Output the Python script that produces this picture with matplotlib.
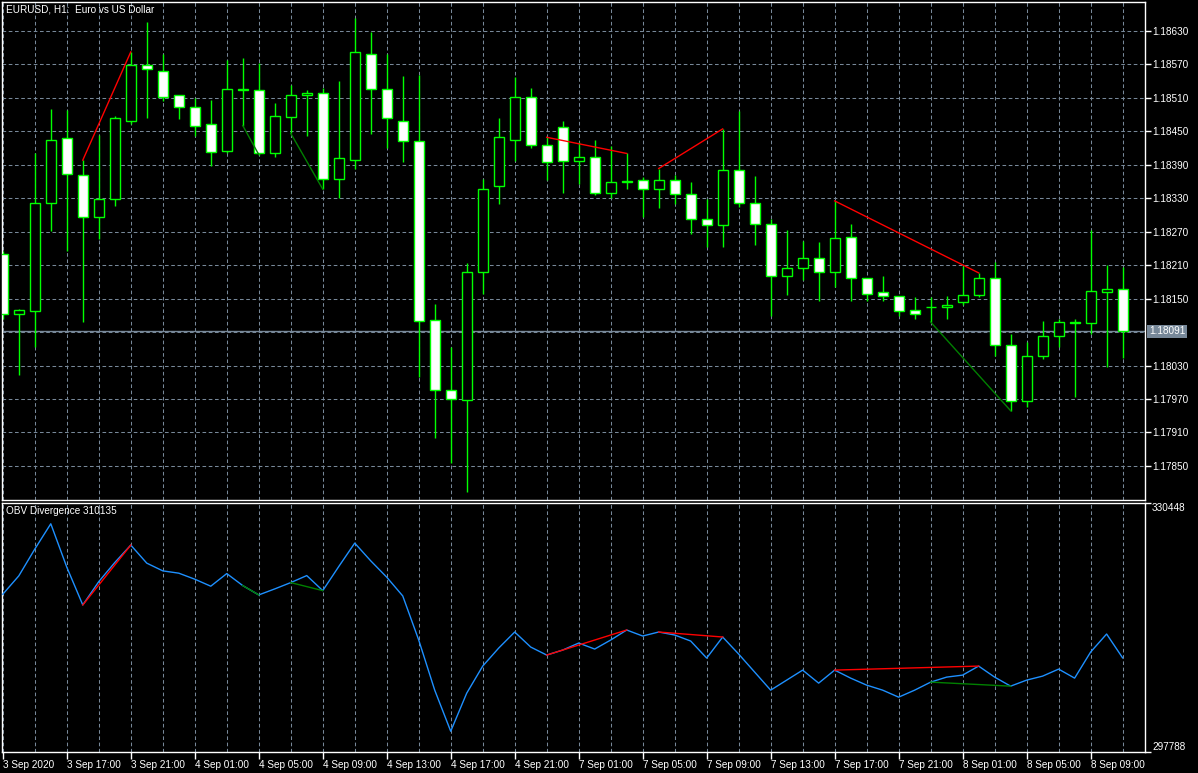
import matplotlib
matplotlib.use("Agg")
import matplotlib.pyplot as plt
import matplotlib.transforms as mtransforms

plt.rcParams['font.family'] = ['Liberation Sans', 'DejaVu Sans']

# --- данные графика (EURUSD H1) ---
chart_title = "EURUSD, H1:  Euro vs US Dollar"
obv_title = "OBV Divergence 310135"
last_price = 1.18091

opens = [1.18229, 1.18123, 1.18128, 1.18322, 1.18437, 1.18372, 1.18297, 1.18329, 1.18469, 1.18568,
         1.18557, 1.18514, 1.18494, 1.18462, 1.18414, 1.18523, 1.18524, 1.18410, 1.18476, 1.18514,
         1.18518, 1.18365, 1.18399, 1.18589, 1.18525, 1.18469, 1.18432, 1.18112, 1.17986, 1.17968,
         1.18198, 1.18351, 1.18435, 1.18512, 1.18426, 1.18458, 1.18397, 1.18403, 1.18340, 1.18358,
         1.18362, 1.18347, 1.18363, 1.18338, 1.18292, 1.18281, 1.18380, 1.18322, 1.18284, 1.18191,
         1.18204, 1.18223, 1.18198, 1.18261, 1.18186, 1.18161, 1.18155, 1.18130, 1.18134, 1.18135,
         1.18143, 1.18157, 1.18186, 1.18067, 1.17967, 1.18047, 1.18082, 1.18107, 1.18107, 1.18162,
         1.18168]
highs = [1.18236, 1.18132, 1.18411, 1.18490, 1.18487, 1.18398, 1.18443, 1.18477, 1.18592, 1.18645,
         1.18588, 1.18515, 1.18510, 1.18506, 1.18577, 1.18581, 1.18572, 1.18500, 1.18532, 1.18524,
         1.18528, 1.18540, 1.18652, 1.18628, 1.18589, 1.18549, 1.18550, 1.18140, 1.18063, 1.18213,
         1.18364, 1.18473, 1.18547, 1.18527, 1.18439, 1.18468, 1.18430, 1.18434, 1.18424, 1.18410,
         1.18368, 1.18383, 1.18371, 1.18358, 1.18329, 1.18454, 1.18486, 1.18369, 1.18293, 1.18272,
         1.18254, 1.18252, 1.18325, 1.18283, 1.18187, 1.18191, 1.18155, 1.18153, 1.18152, 1.18155,
         1.18209, 1.18196, 1.18216, 1.18087, 1.18073, 1.18110, 1.18114, 1.18114, 1.18272, 1.18211,
         1.18206]
lows = [1.18114, 1.18013, 1.18064, 1.18271, 1.18236, 1.18108, 1.18257, 1.18316, 1.18462, 1.18473,
        1.18504, 1.18472, 1.18441, 1.18388, 1.18411, 1.18460, 1.18408, 1.18404, 1.18446, 1.18442,
        1.18346, 1.18330, 1.18382, 1.18445, 1.18419, 1.18395, 1.18010, 1.17900, 1.17856, 1.17804,
        1.18158, 1.18320, 1.18397, 1.18420, 1.18363, 1.18339, 1.18356, 1.18336, 1.18331, 1.18347,
        1.18296, 1.18312, 1.18320, 1.18266, 1.18242, 1.18242, 1.18314, 1.18246, 1.18119, 1.18156,
        1.18183, 1.18146, 1.18171, 1.18146, 1.18146, 1.18146, 1.18119, 1.18114, 1.18108, 1.18114,
        1.18139, 1.18153, 1.18047, 1.17949, 1.17956, 1.18042, 1.18064, 1.17973, 1.18087, 1.18028,
        1.18043]
closes = [1.18123, 1.18130, 1.18322, 1.18435, 1.18373, 1.18297, 1.18329, 1.18473, 1.18568, 1.18561,
          1.18512, 1.18494, 1.18460, 1.18412, 1.18525, 1.18525, 1.18410, 1.18478, 1.18514, 1.18519,
          1.18365, 1.18401, 1.18591, 1.18525, 1.18473, 1.18432, 1.18110, 1.17986, 1.17970, 1.18198,
          1.18347, 1.18439, 1.18512, 1.18426, 1.18394, 1.18397, 1.18403, 1.18340, 1.18358, 1.18361,
          1.18347, 1.18363, 1.18338, 1.18292, 1.18281, 1.18380, 1.18322, 1.18283, 1.18191, 1.18204,
          1.18222, 1.18198, 1.18259, 1.18186, 1.18159, 1.18155, 1.18128, 1.18123, 1.18135, 1.18139,
          1.18157, 1.18186, 1.18067, 1.17967, 1.18047, 1.18082, 1.18108, 1.18108, 1.18164, 1.18168,
          1.18091]
obv = [318483, 320889, 324400, 327726, 322033, 317076, 320140, 322638, 324926, 322559,
       321546, 321244, 320455, 319535, 321191, 319614, 318391, 319180, 320008, 320928,
       318956, 322112, 325188, 322861, 320718, 318260, 312474, 305900, 300510, 305506,
       309056, 311422, 313526, 311554, 310502, 311160, 312080, 311291, 312474, 313789,
       313000, 313526, 313132, 312343, 310108, 312869, 310634, 308267, 305900, 307215,
       308530, 306821, 308530, 307478, 306558, 305900, 304980, 305900, 306952, 307610,
       307873, 309056, 307610, 306426, 307215, 307741, 308661, 307478, 310897, 313263,
       310135]

# дивергенции: пары индексов свечей (медвежьи - по максимумам, бычьи - по минимумам)
bear_div = [(5, 8), (34, 39), (41, 45), (52, 61)]
bull_div = [(15, 16), (18, 20), (58, 63)]

price_ticks = [1.17850, 1.17910, 1.17970, 1.18030, 1.18150, 1.18210,
               1.18270, 1.18330, 1.18390, 1.18450, 1.18510, 1.18570, 1.18630]
obv_ticks = [297788, 330448]
time_labels = ["3 Sep 2020", "3 Sep 17:00", "3 Sep 21:00", "4 Sep 01:00", "4 Sep 05:00",
               "4 Sep 09:00", "4 Sep 13:00", "4 Sep 17:00", "4 Sep 21:00", "7 Sep 01:00",
               "7 Sep 05:00", "7 Sep 09:00", "7 Sep 13:00", "7 Sep 17:00", "7 Sep 21:00",
               "8 Sep 01:00", "8 Sep 05:00", "8 Sep 09:00"]

# --- оформление в стиле MetaTrader ---
W, H = 1198, 773
fig = plt.figure(figsize=(W / 100, H / 100), dpi=100, facecolor='black')
ax = fig.add_axes([2 / W, (H - 500) / H, 1143 / W, 498 / H], facecolor='black')
ax2 = fig.add_axes([2 / W, (H - 752) / H, 1143 / W, 249 / H], facecolor='black', sharex=ax)

grid_color = '#778899'
lime = '#00ff00'
grid_style = (0, (3.5, 2.5))
n = len(closes)
xs = list(range(n))

for a in (ax, ax2):
    for s in a.spines.values():
        s.set_color('white')
        s.set_linewidth(1)
    for i in range(0, n + 1, 2):
        a.axvline(i, color=grid_color, lw=0.75, ls=grid_style, zorder=0)

# горизонтальная сетка и линия текущей цены
for p in price_ticks + [1.18090]:
    ax.axhline(p, color=grid_color, lw=0.75, ls=grid_style, zorder=0)
ax.axhline(last_price, color=grid_color, lw=1, zorder=1)

# свечи: белые - медвежьи, чёрные - бычьи
ax.vlines(xs, lows, highs, color=lime, lw=1, zorder=2)
for i in xs:
    o, c = opens[i], closes[i]
    bottom = min(o, c)
    h = max(abs(c - o), 0.000012)
    face = 'white' if c < o else 'black'
    ax.bar(i, h, bottom=bottom, width=0.62, color=face, edgecolor=lime, linewidth=1, zorder=3)

# линии дивергенций
for i0, i1 in bear_div:
    ax.plot([i0, i1], [highs[i0], highs[i1]], color='red', lw=1, zorder=4)
    ax2.plot([i0, i1], [obv[i0], obv[i1]], color='red', lw=1, zorder=4)
for i0, i1 in bull_div:
    ax.plot([i0, i1], [lows[i0], lows[i1]], color='#008000', lw=1, zorder=4)
    ax2.plot([i0, i1], [obv[i0], obv[i1]], color='#008000', lw=1, zorder=4)

ax2.plot(xs, obv, color='#1e90ff', lw=1, zorder=3)

ax.set_xlim(-0.05, 71.4)
ax.set_ylim(1.17789, 1.186814)
ax2.set_ylim(297788, 330448)

ax.yaxis.tick_right()
ax.set_yticks(price_ticks)
ax.set_yticklabels(['%.5f' % p for p in price_ticks])
ax.tick_params(axis='y', direction='out', length=4, width=1, colors='white', labelsize=7.2, pad=1)
ax.tick_params(axis='x', bottom=False, labelbottom=False)

ax2.yaxis.tick_right()
ax2.set_yticks(obv_ticks)
ax2.set_yticklabels([str(v) for v in obv_ticks])
ax2.tick_params(axis='y', direction='out', length=4, width=1, colors='white', labelsize=7.2, pad=1)
lbls = ax2.get_yticklabels()
lbls[0].set_va('bottom')
lbls[1].set_va('top')

ax2.set_xticks(list(range(0, 4 * len(time_labels), 4)))
ax2.set_xticklabels(time_labels, ha='left')
ax2.tick_params(axis='x', direction='out', length=5, width=1, colors='white', labelsize=7.2, pad=1)

# метка текущей цены
trans = mtransforms.blended_transform_factory(ax.transAxes, ax.transData)
ax.text(1.0035, last_price, '%.5f' % last_price, transform=trans, ha='left', va='center',
        color='white', fontsize=7.2, zorder=10,
        bbox=dict(boxstyle='square,pad=0.18', fc=grid_color, ec='none'))

fig.text(6 / W, 1 - 10 / H, chart_title, color='white', fontsize=7.2, va='center', ha='left')
fig.text(6 / W, 1 - 511 / H, obv_title, color='white', fontsize=7.2, va='center', ha='left')

fig.savefig('out.png', dpi=100, facecolor='black')
